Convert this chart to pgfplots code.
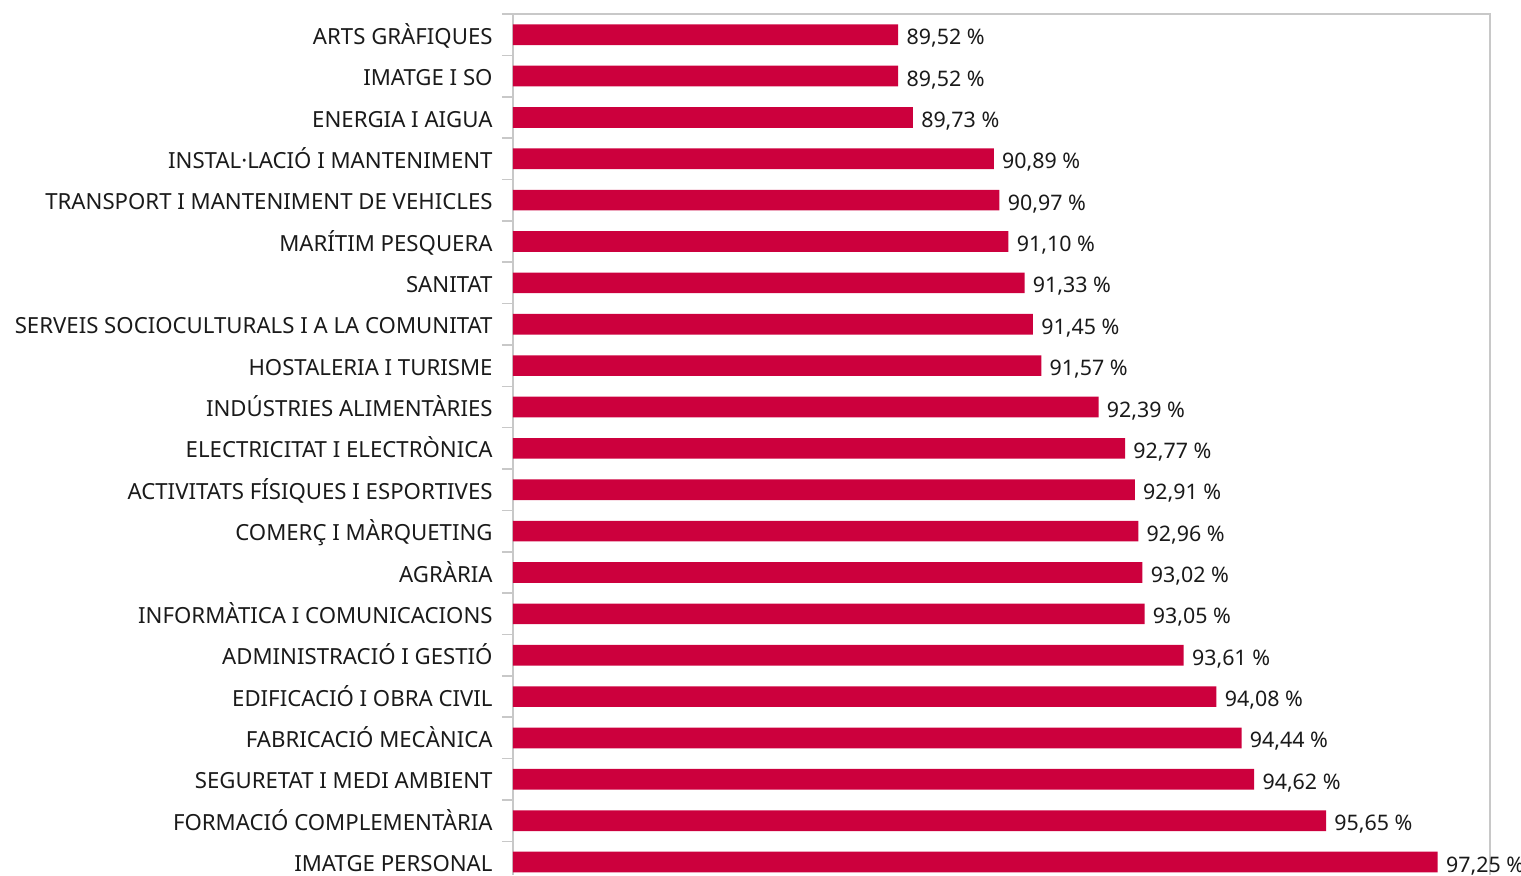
\documentclass[border=0pt]{standalone}
\usepackage{pgfplots}
\pgfplotsset{compat=1.18}
\usepackage{pgfplotstable}
\usepackage{fontspec}
\setmainfont{Noto Sans}
\definecolor{barred}{RGB}{204,0,61}
\definecolor{axgray}{RGB}{200,200,200}
\definecolor{txt}{RGB}{26,26,26}
\pgfplotstableread{
idx v
0 97.25
1 95.65
2 94.62
3 94.44
4 94.08
5 93.61
6 93.05
7 93.02
8 92.96
9 92.91
10 92.77
11 92.39
12 91.57
13 91.45
14 91.33
15 91.10
16 90.97
17 90.89
18 89.73
19 89.52
20 89.52
}\datatable
\begin{document}
\begin{tikzpicture}
\begin{axis}[
  name=ax,
  scale only axis,
  width=488.5pt, height=430.6pt,
  xbar, bar width=0.5,
  xmin=0, xmax=14,
  ymin=-0.317, ymax=20.5,
  clip=false,
  axis x line=none,
  axis y line*=left,
  y axis line style={draw=axgray, line width=0.8pt, -},
  ytick={0,...,20},
  yticklabels={IMATGE PERSONAL,FORMACIÓ COMPLEMENTÀRIA,SEGURETAT I MEDI AMBIENT,FABRICACIÓ MECÀNICA,EDIFICACIÓ I OBRA CIVIL,ADMINISTRACIÓ I GESTIÓ,INFORMÀTICA I COMUNICACIONS,AGRÀRIA,COMERÇ I MÀRQUETING,ACTIVITATS FÍSIQUES I ESPORTIVES,ELECTRICITAT I ELECTRÒNICA,INDÚSTRIES ALIMENTÀRIES,HOSTALERIA I TURISME,SERVEIS SOCIOCULTURALS I A LA COMUNITAT,SANITAT,MARÍTIM PESQUERA,TRANSPORT I MANTENIMENT DE VEHICLES,INSTAL·LACIÓ I MANTENIMENT,ENERGIA I AIGUA,IMATGE I SO,ARTS GRÀFIQUES},
  major tick length=0pt,
  minor ytick={0.5,1.5,...,20.5},
  minor tick length=5.5pt,
  tick align=outside,
  minor tick style={draw=axgray, line width=0.8pt},
  yticklabel style={font=\fontsize{11.1}{12}\selectfont, text=txt, anchor=base east, inner sep=0pt, xshift=-10pt, yshift=-4.8pt},
  /pgf/number format/assume math mode=true,
  point meta=explicit,
  nodes near coords={\pgfmathprintnumber[fixed,fixed zerofill,precision=2,use comma]{\pgfplotspointmeta} \%},
  nodes near coords style={anchor=base west, inner sep=0pt, xshift=4pt, yshift=-5pt, font=\fontsize{10.7}{12}\selectfont, text=txt},
]
\addplot[fill=barred, draw=none] table[x expr=\thisrow{v}-84, y=idx, meta=v] {\datatable};
\draw[axgray, line width=0.8pt] (rel axis cs:0,1) -- (rel axis cs:1,1) -- (rel axis cs:1,0);
\end{axis}
\pgfresetboundingbox
\useasboundingbox ([xshift=-256.5pt]ax.south west) rectangle ([xshift=15.5pt,yshift=7pt]ax.north east);
\end{tikzpicture}
\end{document}
